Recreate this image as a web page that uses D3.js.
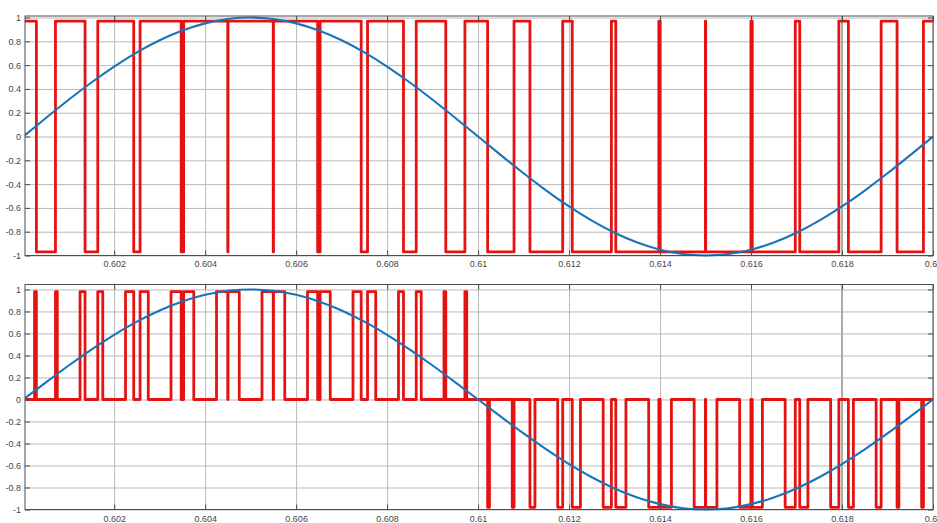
<!DOCTYPE html>
<html lang="en">
<head>
<meta charset="UTF-8">
<title>pwm plots</title>
<script src="https://d3js.org/d3.v7.min.js"></script>
<style>
  body{margin:0;background:#fff;}
  svg{display:block;font-family:"Liberation Sans",Arial,sans-serif;}
  .grid line{stroke:#b9b9b9;stroke-width:1;}
  .grid path{display:none;}
  .ax path,.ax line{stroke:#4d4d4d;}
  .ax text{fill:#454545;font-size:9px;}
  .box{fill:none;stroke:#4d4d4d;}
</style>
</head>
<body>
<svg id="chart" width="937" height="523"></svg>
<script>
// tick values and labels
let xTicks = [0.602, 0.604, 0.606, 0.608, 0.61, 0.612, 0.614, 0.616, 0.618, 0.62]
let xTickLabels = ["0.602", "0.604", "0.606", "0.608", "0.61", "0.612", "0.614", "0.616", "0.618", "0.62"]
let yTicks = [-1, -0.8, -0.6, -0.4, -0.2, 0, 0.2, 0.4, 0.6, 0.8, 1]
let yTickLabels = ["-1", "-0.8", "-0.6", "-0.4", "-0.2", "0", "0.2", "0.4", "0.6", "0.8", "1"]

// reference sine (blue), sampled every 0.5 ms
let sineTimes = [0.6, 0.6005, 0.601, 0.6015, 0.602, 0.6025, 0.603, 0.6035, 0.604, 0.6045,
    0.605, 0.6055, 0.606, 0.6065, 0.607, 0.6075, 0.608, 0.6085, 0.609, 0.6095,
    0.61, 0.6105, 0.611, 0.6115, 0.612, 0.6125, 0.613, 0.6135, 0.614, 0.6145,
    0.615, 0.6155, 0.616, 0.6165, 0.617, 0.6175, 0.618, 0.6185, 0.619, 0.6195, 0.62]
let sineValues = [0, 0.156, 0.309, 0.454, 0.588, 0.707, 0.809, 0.891, 0.951, 0.988,
    1, 0.988, 0.951, 0.891, 0.809, 0.707, 0.588, 0.454, 0.309, 0.156,
    0, -0.156, -0.309, -0.454, -0.588, -0.707, -0.809, -0.891, -0.951, -0.988,
    -1, -0.988, -0.951, -0.891, -0.809, -0.707, -0.588, -0.454, -0.309, -0.156, 0]

// bipolar pwm (top), switching instants and level after each one
let pwm1Times = [0.6,
    0.60029, 0.60071, 0.60136, 0.60164, 0.60243, 0.60257, 0.603473, 0.603527,
    0.604497, 0.604503, 0.605497, 0.605503, 0.606473, 0.606527, 0.60743, 0.60757,
    0.60836, 0.60864, 0.60929, 0.60971, 0.61021, 0.61079, 0.61114, 0.61186,
    0.61207, 0.61293, 0.613027, 0.613973, 0.614003, 0.614997, 0.615003, 0.615997,
    0.616027, 0.616973, 0.61707, 0.61793, 0.61814, 0.61886, 0.61921, 0.61979, 0.62]
let pwm1Levels = [0.97,
    -0.97, 0.97, -0.97, 0.97, -0.97, 0.97, -0.97, 0.97,
    -0.97, 0.97, -0.97, 0.97, -0.97, 0.97, -0.97, 0.97,
    -0.97, 0.97, -0.97, 0.97, -0.97, 0.97, -0.97, 0.97,
    -0.97, 0.97, -0.97, 0.97, -0.97, 0.97, -0.97, 0.97,
    -0.97, 0.97, -0.97, 0.97, -0.97, 0.97, -0.97, 0.97, 0.97]

// unipolar pwm (bottom)
let pwm2Times = [0.6,
    0.60025, 0.60029, 0.60071, 0.60075, 0.60125, 0.60136, 0.60164, 0.60175,
    0.60225, 0.60243, 0.60257, 0.60275, 0.60325, 0.603473, 0.603527, 0.60375,
    0.60425, 0.604497, 0.604503, 0.60475, 0.60525, 0.605497, 0.605503, 0.60575,
    0.60625, 0.606473, 0.606527, 0.60675, 0.60725, 0.60743, 0.60757, 0.60775,
    0.60825, 0.60836, 0.60864, 0.60875, 0.60925, 0.60929, 0.60971, 0.60975,
    0.61021, 0.61025, 0.61075, 0.61079, 0.61114, 0.61125, 0.61175, 0.61186,
    0.61207, 0.61225, 0.61275, 0.61293, 0.613027, 0.61325, 0.61375, 0.613973,
    0.614003, 0.61425, 0.61475, 0.614997, 0.615003, 0.61525, 0.61575, 0.615997,
    0.616027, 0.61625, 0.61675, 0.616973, 0.61707, 0.61725, 0.61775, 0.61793,
    0.61814, 0.61825, 0.61875, 0.61886, 0.61921, 0.61925, 0.61975, 0.61979, 0.62]
let pwm2Levels = [0,
    0.98, 0, 0.98, 0, 0.98, 0, 0.98, 0,
    0.98, 0, 0.98, 0, 0.98, 0, 0.98, 0,
    0.98, 0, 0.98, 0, 0.98, 0, 0.98, 0,
    0.98, 0, 0.98, 0, 0.98, 0, 0.98, 0,
    0.98, 0, 0.98, 0, 0.98, 0, 0.98, 0,
    -0.98, 0, -0.98, 0, -0.98, 0, -0.98, 0,
    -0.98, 0, -0.98, 0, -0.98, 0, -0.98, 0,
    -0.98, 0, -0.98, 0, -0.98, 0, -0.98, 0,
    -0.98, 0, -0.98, 0, -0.98, 0, -0.98, 0,
    -0.98, 0, -0.98, 0, -0.98, 0, -0.98, 0, 0]

let svg = d3.select("#chart")
let x = d3.scaleLinear().domain([0.60004, 0.62]).range([25, 933])

function panel(id, yDomain, yRange, labelPad, times, levels) {
    let y = d3.scaleLinear().domain(yDomain).range(yRange)
    let top = yRange[1], bottom = yRange[0]
    let g = svg.append("g")

    g.append("clipPath").attr("id", "clip" + id)
        .append("rect")
        .attr("x", x.range()[0]).attr("y", top - 3)
        .attr("width", x.range()[1] - x.range()[0]).attr("height", bottom - top + 6)

    // grid
    g.append("g").attr("class", "grid")
        .attr("transform", "translate(0," + bottom + ")")
        .call(d3.axisBottom(x).tickValues(xTicks).tickSize(-(bottom - top)).tickFormat(""))
    g.append("g").attr("class", "grid")
        .attr("transform", "translate(" + x.range()[0] + ",0)")
        .call(d3.axisLeft(y).tickValues(yTicks).tickSize(-(x.range()[1] - x.range()[0])).tickFormat(""))
    g.append("line")
        .attr("x1", x(0.618)).attr("x2", x(0.618))
        .attr("y1", top).attr("y2", bottom)
        .attr("stroke", "#ababab").attr("stroke-width", 2)

    // pwm signal
    let lines = g.append("g").attr("clip-path", "url(#clip" + id + ")")
    let pwmLine = d3.line()
        .x(i => x(times[i]))
        .y(i => y(levels[i]))
        .curve(d3.curveStepAfter)
    lines.append("path")
        .attr("d", pwmLine(d3.range(times.length)))
        .attr("fill", "none")
        .attr("stroke", "#e51212")
        .attr("stroke-width", 2.8)
        .attr("stroke-linejoin", "round")

    let sineLine = d3.line()
        .x(i => x(sineTimes[i]))
        .y(i => y(sineValues[i]))
        .curve(d3.curveNatural)
    lines.append("path")
        .attr("d", sineLine(d3.range(sineTimes.length)))
        .attr("fill", "none")
        .attr("stroke", "#1b74b8")
        .attr("stroke-width", 2.1)

    // axes with inward ticks on all four sides
    g.append("g").attr("class", "ax")
        .attr("transform", "translate(0," + bottom + ")")
        .call(d3.axisBottom(x).tickValues(xTicks).tickSize(-5).tickPadding(labelPad)
            .tickFormat((d, i) => xTickLabels[i]))
    g.append("g").attr("class", "ax")
        .attr("transform", "translate(0," + top + ")")
        .call(d3.axisTop(x).tickValues(xTicks).tickSize(-5).tickFormat(""))
    g.append("g").attr("class", "ax")
        .attr("transform", "translate(" + x.range()[0] + ",0)")
        .call(d3.axisLeft(y).tickValues(yTicks).tickSize(-5).tickPadding(4)
            .tickFormat((d, i) => yTickLabels[i]))
    g.append("g").attr("class", "ax")
        .attr("transform", "translate(" + x.range()[1] + ",0)")
        .call(d3.axisRight(y).tickValues(yTicks).tickSize(-5).tickFormat(""))
    g.selectAll(".ax .domain").remove()
    g.append("rect").attr("class", "box")
        .attr("x", x.range()[0]).attr("y", top)
        .attr("width", x.range()[1] - x.range()[0]).attr("height", bottom - top)
}

panel(1, [-1, 1.013], [255.5, 16], 5.5, pwm1Times, pwm1Levels)
panel(2, [-1, 1.045], [509.5, 284.5], 6, pwm2Times, pwm2Levels)
</script>
</body>
</html>
